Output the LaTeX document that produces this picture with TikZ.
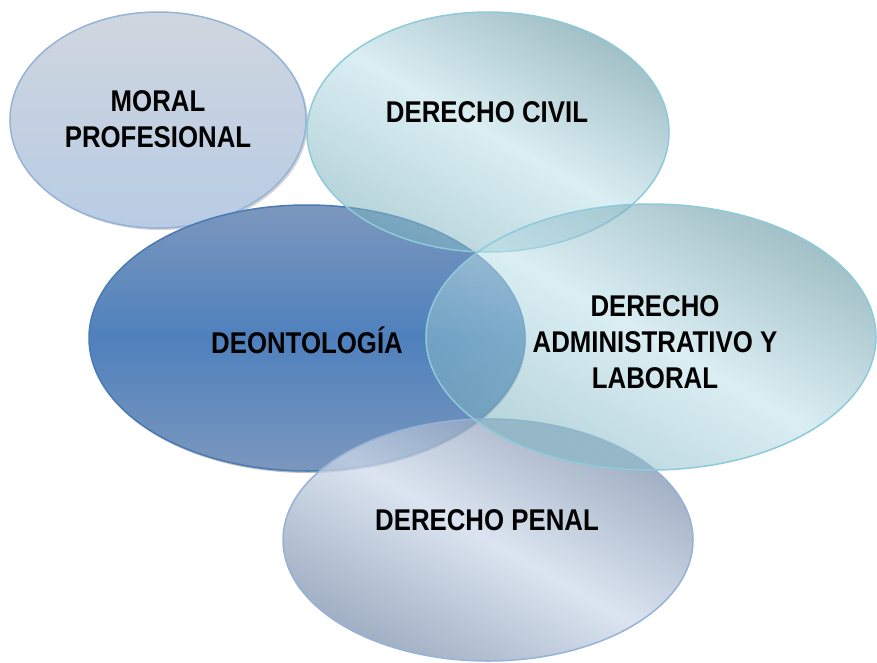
\documentclass[tikz,border=0pt]{standalone}
\usepackage{fontspec}
\newfontfamily\lblfont{Liberation Sans}[FakeStretch=0.86]
\usepackage{tikz}
\usetikzlibrary{shapes.geometric, shadows}

\definecolor{moralTop}{HTML}{CFD6DF}
\definecolor{moralBot}{HTML}{B8CCE4}
\definecolor{moralEdge}{HTML}{95B3D7}
\definecolor{deonTop}{HTML}{7B97BD}
\definecolor{deonMid}{HTML}{4F81BD}
\definecolor{deonEdge}{HTML}{4A7AB4}
\definecolor{glassDark}{HTML}{528997}
\definecolor{glassMid}{HTML}{78AFBC}
\definecolor{glassLight}{HTML}{BCE0E9}
\definecolor{glassEdge}{HTML}{8ECADA}
\definecolor{penalDark}{HTML}{7F92AE}
\definecolor{penalLight}{HTML}{CFDBEB}
\definecolor{penalEdge}{HTML}{95B3D7}

\begin{document}
\begin{tikzpicture}[
    x=1pt, y=-1pt,
    bubble/.style={ellipse, inner sep=0pt, line width=1.5pt},
    glass/.style={bubble, draw=glassEdge, fill opacity=0.55, draw opacity=1,
        top color=glassDark, bottom color=glassMid, middle color=glassLight, shading angle=-30},
    lbl/.style={font=\lblfont\fontsize{30}{36}\selectfont\bfseries, align=center, text=black}
]
\useasboundingbox (0,0) rectangle (877,662);

% Back bubble
\node[bubble, draw=moralEdge, top color=moralTop, bottom color=moralBot,
      drop shadow={opacity=0.35, shadow xshift=2pt, shadow yshift=-2pt},
      minimum width=296, minimum height=216] (moral) at (158,120) {};

% Central bubble
\node[bubble, draw=deonEdge, top color=deonTop, bottom color=deonTop, middle color=deonMid,
      drop shadow={opacity=0.5, shadow xshift=1pt, shadow yshift=-2pt},
      minimum width=436, minimum height=266] (deon) at (307,338) {};

% Glassy bubbles on top
\node[glass, minimum width=362, minimum height=240] (civil) at (488,132) {};
\node[bubble, draw=penalEdge, fill opacity=0.75,
      top color=penalDark, bottom color=penalDark, middle color=penalLight, shading angle=-30,
      minimum width=410, minimum height=242] (penal) at (488,540) {};
\node[glass, minimum width=450, minimum height=266] (admin) at (651,337) {};

% Labels
\node[lbl] (moral-txt) at (158,119) {MORAL\\PROFESIONAL};
\node[lbl, anchor=base] (civil-txt) at (487,122) {DERECHO CIVIL};
\node[lbl, anchor=base] (deon-txt) at (307,353) {DEONTOLOGÍA};
\node[lbl] (admin-txt) at (655,342) {DERECHO\\ADMINISTRATIVO Y\\LABORAL};
\node[lbl, anchor=base] (penal-txt) at (487,530) {DERECHO PENAL};

\end{tikzpicture}
\end{document}
